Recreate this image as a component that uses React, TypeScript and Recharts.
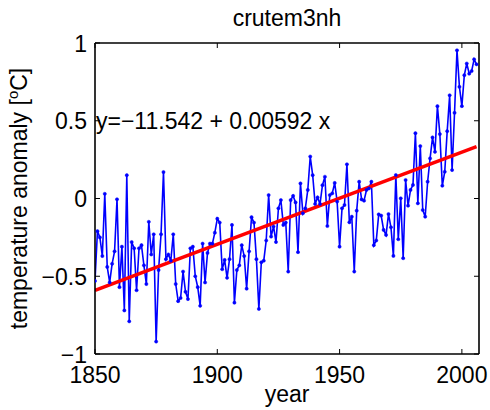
import React from 'react';
import { LineChart, Line, XAxis, YAxis, ReferenceDot } from 'recharts';

const FONT = '"Liberation Sans", Arial, Helvetica, sans-serif';
const FS = 23;

const title = 'crutem3nh';
const xLabel = 'year';
const FIRST_YEAR = 1850;

// annual anomaly, 1850 .. 2006
const anomaly = [
  -0.53, -0.21, -0.25, -0.37, 0.03, -0.44, -0.54, -0.42, -0.34, -0.005,
  -0.57, -0.31, -0.72, 0.15, -0.79, -0.28, -0.32, -0.59, -0.32, -0.30,
  -0.43, -0.55, -0.15, -0.36, -0.23, -0.92, -0.46, -0.23, 0.17, -0.39,
  -0.36, -0.40, -0.23, -0.55, -0.66, -0.64, -0.47, -0.60, -0.647, -0.32,
  -0.31, -0.50, -0.57, -0.69, -0.29, -0.54, -0.35, -0.29, -0.29, -0.22,
  -0.13, -0.155, -0.455, -0.395, -0.51, -0.39, -0.17, -0.67, -0.46, -0.43,
  -0.30, -0.37, -0.58, -0.34, -0.12, -0.155, -0.39, -0.71, -0.41, -0.40,
  -0.27, 0.022, -0.245, -0.18, -0.28, -0.063, -0.01, -0.17, -0.155, -0.47,
  -0.01, 0.017, -0.025, -0.345, 0.097, -0.095, -0.063, 0.055, 0.27, 0.15,
  -0.035, 0.007, -0.035, 0.086, 0.14, -0.177, 0.022, 0.033, 0.10, -0.02,
  -0.31, -0.063, -0.042, 0.22, -0.153, -0.117, -0.47, -0.078, 0.108, -0.006,
  -0.014, 0.055, 0.065, 0.108, -0.30, -0.27, -0.102, -0.11, -0.202, -0.234,
  -0.10, -0.185, -0.369, 0.151, -0.262, 0.001, -0.384, 0.119, -0.046, 0.055,
  0.087, 0.42, -0.031, 0.337, -0.074, -0.117, 0.108, 0.258, 0.393, 0.30,
  0.594, 0.414, 0.082, 0.172, 0.433, 0.664, 0.183, 0.551, 0.953, 0.718,
  0.594, 0.793, 0.868, 0.803, 0.82, 0.895, 0.863,
];

const xTicks = [1850, 1900, 1950, 2000];
const yTicks = [-1, -0.5, 0, 0.5, 1];
const xDomain = [1850, 2007];
const yDomain = [-1, 1];

// linear fit shown on the chart
const fitIntercept = -11.542;
const fitSlope = 0.00592;
const fitLabel = 'y=\u221211.542 + 0.00592 x';

const data = anomaly.map((v, i) => ({ year: FIRST_YEAR + i, anomaly: v }));
const lastYear = FIRST_YEAR + anomaly.length - 1;
const fitData = [FIRST_YEAR, lastYear].map((yr) => ({ year: yr, fit: fitIntercept + fitSlope * yr }));

const TICK = 5;
const fmt = (v: number) => String(v).replace('-', '\u2212');

const BottomTick = (props: any) => {
  const { x, y, payload } = props;
  return (
    <g>
      <line x1={x} x2={x} y1={y} y2={y - TICK} stroke="#000" strokeWidth={1} />
      <text x={x} y={y + 29} textAnchor="middle" fontSize={FS} fontFamily={FONT} fill="#000">
        {fmt(payload.value)}
      </text>
    </g>
  );
};

const TopTick = (props: any) => {
  const { x, y } = props;
  return <line x1={x} x2={x} y1={y} y2={y + TICK} stroke="#000" strokeWidth={1} />;
};

const LeftTick = (props: any) => {
  const { x, y, payload } = props;
  return (
    <g>
      <line x1={x} x2={x + TICK} y1={y} y2={y} stroke="#000" strokeWidth={1} />
      <text x={x - 8} y={y + 8.5} textAnchor="end" fontSize={FS} fontFamily={FONT} fill="#000">
        {fmt(payload.value)}
      </text>
    </g>
  );
};

const RightTick = (props: any) => {
  const { x, y } = props;
  return <line x1={x} x2={x - TICK} y1={y} y2={y} stroke="#000" strokeWidth={1} />;
};

const YLabel = (props: any) => {
  const vb = props.viewBox || { y: 43, height: 311 };
  const cy = vb.y + vb.height / 2;
  return (
    <text
      transform={`translate(27, ${cy}) rotate(-90)`}
      textAnchor="middle"
      fontSize={FS}
      fontFamily={FONT}
      fill="#000"
    >
      temperature anomaly [<tspan fontSize={15} dy={-9}>o</tspan>
      <tspan dy={9}>C]</tspan>
    </text>
  );
};

const axisStroke = { stroke: '#000', strokeWidth: 1.6 };

export default function App() {
  return (
    <div style={{ position: 'absolute', left: 0, top: 0, fontFamily: FONT, background: '#fff' }}>
      <LineChart
        width={490}
        height={410}
        data={data}
        margin={{ top: 42, right: 10, bottom: 26, left: 55 }}
      >
        <XAxis
          xAxisId="b"
          dataKey="year"
          type="number"
          domain={xDomain}
          ticks={xTicks}
          allowDataOverflow
          orientation="bottom"
          height={30}
          tickLine={false}
          tickSize={0}
          tickMargin={0}
          axisLine={axisStroke}
          tick={BottomTick}
          interval={0}
          label={{ value: xLabel, position: 'bottom', offset: 2, fontSize: FS, fill: '#000' }}
        />
        <XAxis
          xAxisId="t"
          dataKey="year"
          type="number"
          domain={xDomain}
          ticks={xTicks}
          allowDataOverflow
          orientation="top"
          height={1}
          tickLine={false}
          tickSize={0}
          tickMargin={0}
          axisLine={axisStroke}
          tick={TopTick}
          interval={0}
          label={{ value: title, position: 'top', offset: 16, fontSize: FS, fill: '#000' }}
        />
        <YAxis
          yAxisId="l"
          type="number"
          domain={yDomain}
          ticks={yTicks}
          allowDataOverflow
          orientation="left"
          width={40}
          tickLine={false}
          tickSize={0}
          tickMargin={0}
          axisLine={axisStroke}
          tick={LeftTick}
          interval={0}
          label={<YLabel />}
        />
        <YAxis
          yAxisId="r"
          type="number"
          domain={yDomain}
          ticks={yTicks}
          allowDataOverflow
          orientation="right"
          width={1}
          tickLine={false}
          tickSize={0}
          tickMargin={0}
          axisLine={axisStroke}
          tick={RightTick}
          interval={0}
        />
        <Line
          xAxisId="b"
          yAxisId="l"
          dataKey="anomaly"
          stroke="#0000ff"
          strokeWidth={1.6}
          dot={{ r: 1.6, fill: '#0000ff', stroke: '#0000ff', strokeWidth: 0.5 }}
          isAnimationActive={false}
        />
        <Line
          xAxisId="b"
          yAxisId="l"
          data={fitData}
          dataKey="fit"
          stroke="#ff0000"
          strokeWidth={3.5}
          dot={false}
          isAnimationActive={false}
        />
        <ReferenceDot
          xAxisId="b"
          yAxisId="l"
          x={FIRST_YEAR}
          y={0.5}
          r={0}
          fill="none"
          stroke="none"
          label={{ value: fitLabel, position: 'right', offset: 1, fontSize: FS, fill: '#000' }}
        />
      </LineChart>
    </div>
  );
}
